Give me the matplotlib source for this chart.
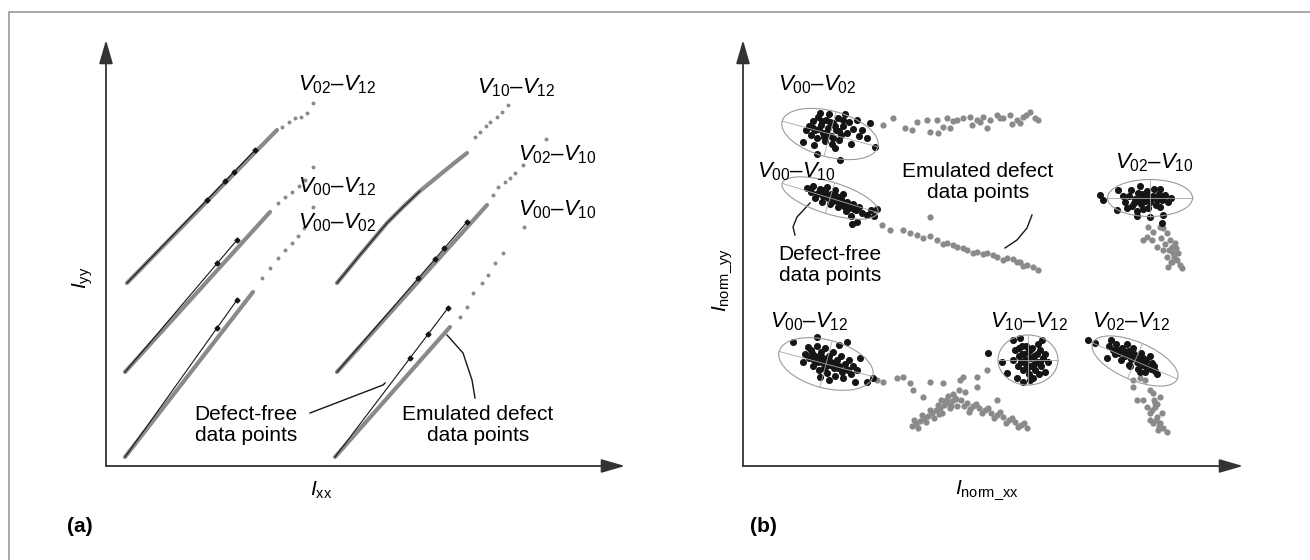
import numpy as np
import matplotlib.pyplot as plt
from matplotlib.patches import Ellipse, Rectangle

plt.rcParams['font.family'] = 'Liberation Sans'
plt.rcParams['mathtext.fontset'] = 'custom'
plt.rcParams['mathtext.rm'] = 'Liberation Sans'
plt.rcParams['mathtext.it'] = 'Liberation Sans:italic'

W, H = 1310, 560
BLACK = '#151515'
GREY = '#8a8a8a'
AXIS = '#333333'
FS = 15
FS_V = 16

# ---------------- panel (a): I_yy vs I_xx ----------------
a_labels = [r'$V_{02}$–$V_{12}$', r'$V_{00}$–$V_{12}$', r'$V_{00}$–$V_{02}$',
            r'$V_{10}$–$V_{12}$', r'$V_{02}$–$V_{10}$', r'$V_{00}$–$V_{10}$']
a_label_x = [192, 192, 192, 371, 412, 412]
a_label_y = [381, 279, 243, 378, 311, 256]

# emulated defect, dense part (polyline vertices)
grey_dense_x = [[21, 171], [19, 164], [19, 147], [231, 254, 281, 297, 314, 347, 361], [231, 381], [229, 344]]
grey_dense_y = [[183, 336], [94, 254], [9, 174], [183, 211, 243, 259, 275, 302, 313], [94, 261], [9, 139]]
# emulated defect, sparse tail points
grey_sparse_x = [[176, 183, 189, 195, 201, 207], [172, 179, 186, 193, 199, 207],
                 [156, 164, 172, 179, 186, 192, 198, 207], [369, 374, 380, 384, 391, 396, 402],
                 [387, 392, 399, 404, 409, 417, 440], [354, 361, 367, 376, 382, 389, 397, 418]]
grey_sparse_y = [[339, 344, 348, 349, 353, 363], [263, 269, 274, 280, 286, 299],
                 [188, 198, 208, 216, 223, 230, 238, 259], [329, 334, 340, 344, 349, 354, 361],
                 [271, 279, 284, 288, 293, 301, 327], [149, 159, 173, 183, 191, 203, 213, 239]]
# defect-free
black_x = [[21, 149], [19, 131], [19, 131], [231, 254, 281, 297, 314], [231, 361], [229, 342]]
black_y = [[183, 316], [94, 226], [9, 166], [183, 211, 243, 259, 275], [94, 244], [9, 158]]
bmark_x = [[101, 119, 128, 149], [111, 131], [111, 131], [], [312, 329, 338, 361], [304, 322, 342]]
bmark_y = [[266, 285, 294, 316], [203, 226], [138, 166], [], [188, 207, 218, 244], [108, 132, 158]]

a_free_text = (140, 41)
a_free_lead_x, a_free_lead_y = [204, 277, 279], [53, 81, 83]
a_emu_text = (372, 41)
a_emu_lead_x, a_emu_lead_y = [369, 366, 357, 341], [68, 86, 113, 131]

# ---------------- panel (b): I_norm_yy vs I_norm_xx ----------------
b_labels = [r'$V_{00}$–$V_{02}$', r'$V_{00}$–$V_{10}$', r'$V_{02}$–$V_{10}$',
            r'$V_{00}$–$V_{12}$', r'$V_{10}$–$V_{12}$', r'$V_{02}$–$V_{12}$']
b_label_x = [35, 14, 372, 27, 247, 349]
b_label_y = [381, 294, 303, 144, 144, 144]

# fitted ellipses: centre, width, height, angle
ell_cx = [87, 87, 407, 83, 285, 392]
ell_cy = [332, 268, 268, 102, 106, 105]
ell_w = [99, 100, 85, 97, 60, 92]
ell_h = [46, 32, 37, 48, 50, 38]
ell_ang = [-15, -17, 0, -15, 0, -23]

# defect-free clusters
free_x = [
    [66, 70, 72, 75, 78, 80, 83, 85, 88, 90, 93, 95, 98, 100, 68, 74, 82, 89, 96, 104, 106, 102, 86, 77, 63, 71, 92, 110,
     76, 84, 92, 79, 87, 70, 96, 100, 81, 90,
     119, 124, 132, 74, 97, 127, 114, 116, 60, 108],
    [64, 68, 70, 74, 77, 80, 82, 85, 88, 90, 93, 96, 98, 101, 104, 106, 110, 113, 116, 72, 79, 87, 95, 103, 84, 92, 100,
     75, 83, 91, 99, 107, 111, 81, 97,
     119, 124, 128, 108, 134, 109, 114, 131],
    [382, 386, 389, 392, 395, 398, 401, 404, 407, 410, 413, 416, 419, 422, 425, 388, 400, 411, 394, 417, 428, 384, 405, 380,
     396, 402, 408, 414, 399, 405, 391, 420,
     357, 360, 374, 375, 397, 417, 394, 407, 420, 419],
    [62, 66, 68, 72, 75, 78, 80, 83, 86, 88, 91, 94, 96, 99, 102, 105, 108, 70, 76, 84, 92, 100, 65, 74, 82, 90, 98, 106,
     110, 60, 86, 71, 79, 87, 95, 103, 77, 85, 93, 69, 81,
     50, 104, 117, 114, 112, 130, 124, 77, 74, 96],
    [272, 276, 279, 282, 285, 288, 291, 294, 297, 300, 275, 280, 286, 292, 298, 283, 289, 295, 270, 278, 284, 290, 302, 296,
     281, 287, 283, 291, 279, 294, 287, 276, 297,
     245, 259, 264, 274, 280, 287, 302, 299, 270, 277, 305],
    [366, 370, 373, 376, 379, 382, 385, 388, 391, 394, 397, 400, 403, 406, 409, 412, 378, 386, 395, 402, 372, 390, 398, 407,
     384, 411, 414, 381, 389, 396, 403, 393, 400, 386, 408,
     345, 364, 374, 387, 397, 352, 368],
]
free_y = [
    [340, 345, 336, 349, 341, 333, 346, 338, 330, 343, 336, 348, 331, 340, 331, 328, 325, 322, 326, 333, 344, 352, 352, 353,
     336, 321, 318, 337, 337, 334, 340, 345, 344, 338, 335, 346, 329, 328,
     336, 328, 319, 312, 306, 343, 346, 330, 324, 322],
    [278, 274, 280, 272, 277, 270, 275, 268, 272, 265, 270, 263, 267, 260, 264, 258, 262, 256, 259, 268, 264, 262, 259, 255,
     279, 276, 272, 273, 270, 267, 264, 261, 257, 276, 269,
     253, 251, 256, 250, 257, 242, 244, 250],
    [264, 270, 260, 267, 273, 262, 269, 275, 264, 270, 261, 272, 266, 271, 264, 276, 257, 277, 255, 259, 268, 258, 258, 270,
     266, 265, 268, 266, 272, 270, 263, 268,
     271, 266, 256, 276, 280, 277, 250, 249, 251, 243],
    [112, 108, 116, 110, 104, 114, 108, 100, 110, 104, 98, 106, 100, 94, 102, 96, 92, 100, 96, 93, 90, 88, 119, 120, 118,
     114, 110, 106, 100, 104, 86, 106, 104, 101, 98, 97, 110, 106, 103, 113, 98,
     124, 124, 108, 96, 84, 88, 84, 89, 129, 121],
    [116, 110, 120, 106, 114, 100, 110, 104, 116, 108, 100, 96, 92, 96, 100, 120, 118, 122, 106, 104, 98, 88, 112, 92, 112,
     108, 102, 102, 112, 112, 116, 118, 104,
     113, 104, 93, 88, 84, 86, 94, 126, 126, 128, 104],
    [120, 116, 122, 113, 118, 110, 115, 107, 112, 104, 108, 101, 106, 98, 103, 95, 106, 101, 97, 94, 112, 118, 113, 110,
     122, 100, 92, 114, 110, 104, 100, 108, 108, 112, 97,
     126, 108, 116, 100, 94, 123, 126],
]

# emulated defect clusters
emu_x = [
    # V00-V02 row
    [140, 150, 162, 169, 174, 187, 195, 207, 184, 194, 204, 214, 220, 227, 234, 240, 247, 254, 260, 267, 274, 280, 287,
     292, 277, 295, 269, 200, 244, 229, 210, 237, 257, 283],
    # V00-V10 descending band
    [139, 147, 160, 167, 174, 187, 194, 204, 214, 224, 234, 244, 254, 264, 274, 284, 295, 290, 277, 187, 180, 200, 220,
     240, 260, 270, 280, 210, 230, 250],
    # V02-V10 drop below ellipse
    [405, 417, 404, 409, 414, 424, 427, 429, 430, 434, 439, 424, 425, 420, 400, 410, 432, 435, 429, 437, 420,
     422, 426, 431, 418, 428, 433],
    # V00-V12 / V10-V12 inverted V
    [169, 173, 177, 181, 185, 189, 193, 197, 201, 205, 209, 213, 171, 179, 187, 195, 203, 175, 183, 191, 199, 207,
     218, 224, 230, 236, 242, 248, 254, 260, 266, 272, 278, 284, 227, 239, 251, 263, 275, 221, 233, 245, 257, 269, 281,
     210, 216, 222, 205, 134, 154, 167, 180, 220, 234, 244, 140, 160, 170, 187, 200, 217, 254, 234,
     196, 208, 214, 226, 198, 212],
    # V02-V12 drop below ellipse
    [390, 397, 402, 390, 394, 400, 407, 410, 411, 412, 407, 414, 410, 417, 420, 424, 415, 419, 404, 407, 414, 417,
     409, 413, 416, 412],
]
emu_y = [
    [341, 348, 338, 336, 344, 334, 333, 338, 346, 346, 348, 346, 348, 349, 346, 349, 346, 351, 348, 351, 346, 349, 354,
     348, 343, 346, 342, 339, 338, 341, 345, 344, 348, 351],
    [241, 236, 236, 233, 231, 230, 226, 223, 219, 216, 214, 213, 209, 208, 204, 201, 196, 199, 204, 249, 228, 222, 218,
     212, 206, 207, 200, 221, 213, 211],
    [239, 239, 229, 226, 219, 233, 226, 219, 213, 206, 198, 209, 199, 216, 226, 234, 223, 213, 204, 201, 238,
     222, 216, 209, 228, 204, 218],
    [40, 42, 45, 48, 50, 53, 56, 58, 61, 63, 65, 67, 46, 51, 56, 61, 66, 38, 44, 48, 53, 58,
     66, 63, 60, 58, 56, 53, 51, 49, 46, 44, 41, 38, 57, 53, 48, 43, 39, 60, 62, 58, 54, 48, 43,
     72, 76, 74, 70, 86, 88, 83, 69, 89, 89, 96, 84, 89, 76, 84, 83, 86, 66, 79,
     52, 60, 60, 54, 66, 68],
    [86, 88, 86, 79, 66, 66, 76, 73, 66, 59, 53, 49, 43, 43, 38, 34, 36, 53, 59, 46, 62, 69,
     56, 46, 40, 63],
]

b_free_text = (87, 201)
b_free_lead_x, b_free_lead_y = [52, 50, 54, 67], [231, 239, 249, 263]
b_emu_text = (235, 284)
b_emu_lead_x, b_emu_lead_y = [289, 284, 274, 262], [251, 238, 226, 218]

fig = plt.figure(figsize=(W / 100, H / 100), dpi=100)
fig.add_artist(Rectangle((9 / W, -0.1), 2, 1 - 12 / H + 0.1, transform=fig.transFigure,
                         fill=False, ec='#9a9a9a', lw=1.2))


def add_panel(x0, x1, y_top, y_bot):
    ax = fig.add_axes([x0 / W, 1 - y_bot / H, (x1 - x0) / W, (y_bot - y_top) / H])
    ax.set_xlim(0, x1 - x0)
    ax.set_ylim(0, y_bot - y_top)
    ax.axis('off')
    for tip in [(1, 0), (0, 1)]:
        ax.annotate('', xy=tip, xytext=(0, 0), xycoords='axes fraction',
                    arrowprops=dict(arrowstyle='-|>,head_length=1.45,head_width=0.42', color=AXIS,
                                    lw=1.3, shrinkA=0, shrinkB=0, mutation_scale=10))
    return ax


# panel (a)
axa = add_panel(106, 625, 40, 466)
for i in range(6):
    axa.plot(grey_dense_x[i], grey_dense_y[i], color=GREY, lw=3.0, solid_capstyle='round', clip_on=False)
    axa.plot(black_x[i], black_y[i], color=BLACK, lw=0.8, clip_on=False)
    axa.plot(bmark_x[i], bmark_y[i], 'D', color=BLACK, ms=2.5, clip_on=False)
    axa.scatter(grey_sparse_x[i], grey_sparse_y[i], s=8, color=GREY, lw=0, clip_on=False)
    axa.text(a_label_x[i], a_label_y[i], a_labels[i], fontsize=FS_V, ha='left', va='center')

axa.text(*a_free_text, 'Defect-free\ndata points', fontsize=FS, ha='center', va='center', linespacing=1.15)
axa.plot(a_free_lead_x, a_free_lead_y, color=BLACK, lw=1.0)
axa.text(*a_emu_text, 'Emulated defect\ndata points', fontsize=FS, ha='center', va='center', linespacing=1.15)
axa.plot(a_emu_lead_x, a_emu_lead_y, color=BLACK, lw=1.0)
axa.text(-23, 188, r'$I_{\mathrm{yy}}$', fontsize=FS, rotation=90, ha='center', va='center')
axa.text(215, -24, r'$I_{\mathrm{xx}}$', fontsize=FS, ha='center', va='center')
axa.text(-26, -60, '(a)', fontsize=FS, fontweight='bold', ha='center', va='center')

# panel (b)
axb = add_panel(743, 1243, 40, 466)
for i in range(len(emu_x)):
    axb.scatter(emu_x[i], emu_y[i], s=20, color=GREY, lw=0, clip_on=False)
for i in range(6):
    axb.scatter(free_x[i], free_y[i], s=26, color=BLACK, lw=0, clip_on=False)
    axb.add_patch(Ellipse((ell_cx[i], ell_cy[i]), ell_w[i], ell_h[i], angle=ell_ang[i],
                          fill=False, ec='#9a9a9a', lw=0.8, zorder=3))
    t = np.deg2rad(ell_ang[i])
    for half, phi in [(ell_w[i] / 2, t), (ell_h[i] / 2, t + np.pi / 2)]:
        dx, dy = half * np.cos(phi), half * np.sin(phi)
        axb.plot([ell_cx[i] - dx, ell_cx[i] + dx], [ell_cy[i] - dy, ell_cy[i] + dy],
                 color='#a8a8a8', lw=0.6, zorder=3)
    axb.text(b_label_x[i], b_label_y[i], b_labels[i], fontsize=FS_V, ha='left', va='center')

axb.text(*b_free_text, 'Defect-free\ndata points', fontsize=FS, ha='center', va='center', linespacing=1.15)
axb.plot(b_free_lead_x, b_free_lead_y, color=BLACK, lw=1.0)
axb.text(*b_emu_text, 'Emulated defect\ndata points', fontsize=FS, ha='center', va='center', linespacing=1.15)
axb.plot(b_emu_lead_x, b_emu_lead_y, color=BLACK, lw=1.0)
axb.text(-21, 186, r'$I_{\mathrm{norm\_yy}}$', fontsize=FS, rotation=90, ha='center', va='center')
axb.text(244, -24, r'$I_{\mathrm{norm\_xx}}$', fontsize=FS, ha='center', va='center')
axb.text(20, -60, '(b)', fontsize=FS, fontweight='bold', ha='center', va='center')

fig.savefig('out.png', dpi=100)
